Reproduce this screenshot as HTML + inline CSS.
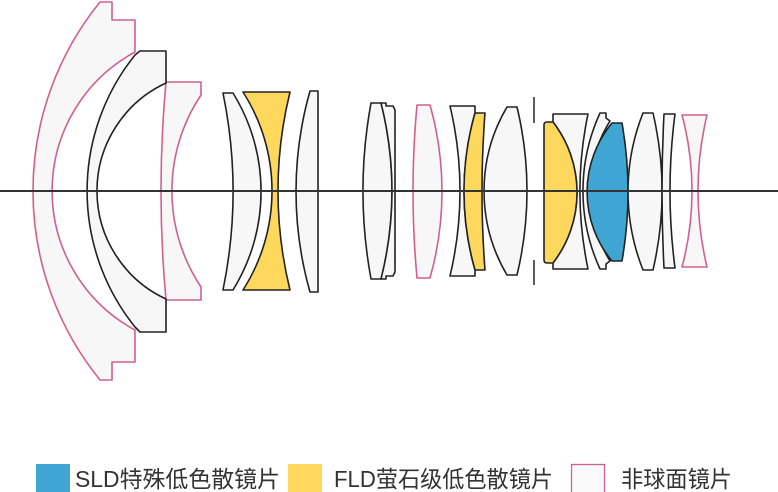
<!DOCTYPE html>
<html><head><meta charset="utf-8"><style>
html,body{margin:0;padding:0;background:#fff;}
svg{display:block;}
text{font-family:"Liberation Sans","Noto Sans CJK SC",sans-serif;fill:#333;font-size:23px;}
</style></head><body>
<svg width="778" height="492" viewBox="0 0 778 492" xmlns="http://www.w3.org/2000/svg">
<g fill="#f7f7f7" stroke-width="1.6" stroke-linejoin="round">
<!-- element 1 pink -->
<path stroke="#d0608f" d="M100,2 L112,2 L112,20 L135,20 L135,52 A158 158 0 0 0 135,330 L135,362 L112,362 L112,380 L100,380 A300 300 0 0 1 100,2 Z"/>
<!-- element 3 pink -->
<path stroke="#d0608f" d="M166,82 L201,82 L201,95 A173 173 0 0 0 201,287 L201,300 L166,300 A1190 1190 0 0 1 166,82 Z"/>
<!-- element 2 black -->
<path stroke="#222" d="M140,51 L166,51 L166,83 A119 119 0 0 0 166,299 L166,332 L140,332 L135,327 A217 217 0 0 1 135,55 Z"/>
<!-- element 4 -->
<path stroke="#222" d="M223,93 L233,93 A187 187 0 0 1 233,290 L223,290 A490 490 0 0 0 223,93 Z"/>
<!-- yellow 1 -->
<path stroke="#222" fill="#fdd85d" d="M243,92 L290,92 A414 414 0 0 0 290,290 L243,290 A183.5 183.5 0 0 0 243,92 Z"/>
<!-- element 6 -->
<path stroke="#222" d="M310,91 L318,91 L318,292 L310,292 A368 368 0 0 1 310,91 Z"/>
<!-- element 7 doublet -->
<path stroke="#222" d="M371,103 L381,103 A357.5 357.5 0 0 1 381,279 L371,279 A488 488 0 0 1 371,103 Z"/>
<path stroke="#222" d="M381,103 L386,103 L386,106 L393,106 L395,110 L395,272 L393,276 L386,276 L386,279 L381,279 A357.5 357.5 0 0 0 381,103 Z"/>
<!-- element 8 pink -->
<path stroke="#d0608f" d="M417,105 L430,105 A318 318 0 0 1 430,278 L417,278 A937 937 0 0 1 417,105 Z"/>
<!-- element 9 -->
<path stroke="#222" d="M450,106 L475,106 L475,113 A285.6 285.6 0 0 0 475,270 L475,276 L450,276 A366 366 0 0 0 450,106 Z"/>
<path stroke="#222" fill="#fdd85d" d="M475,113 L485,113 A1028 1028 0 0 0 485,270 L475,270 A285.6 285.6 0 0 1 475,113 Z"/>
<!-- element 10 -->
<path stroke="#222" d="M507,107 L517,107 A358 358 0 0 1 517,275 L507,275 A165 165 0 0 1 507,107 Z"/>
<!-- white next to yellow2 -->
<path stroke="#222" d="M553,114 L588,114 A379 379 0 0 0 588,269 L553,269 L553,263 A115.5 115.5 0 0 0 553,122 Z"/>
<path stroke="#222" fill="#fdd85d" d="M547,122 L553,122 A115.5 115.5 0 0 1 553,263 L547,263 Q544,263 544,260 L544,125 Q544,122 547,122 Z"/>
<!-- meniscus -->
<path stroke="#222" d="M600,113 L606,113 L606,118 L610,121 A132.5 132.5 0 0 0 610,261 L606,264 L606,269 L600,269 A187 187 0 0 1 600,113 Z"/>
<!-- blue -->
<path stroke="#222" fill="#3fa6d3" d="M612,123 L622,123 A400 400 0 0 1 622,261 L612,261 A108 108 0 0 1 612,123 Z"/>
<!-- biconvex -->
<path stroke="#222" d="M643,113 L653,113 A347 347 0 0 1 653,270 L643,270 A213 213 0 0 1 643,113 Z"/>
<!-- thin -->
<path stroke="#222" d="M664,114 L675,114 A595 595 0 0 0 675,268 L664,268 A1483 1483 0 0 1 664,114 Z"/>
<!-- pink last -->
<path stroke="#d0608f" d="M682,115 L707,115 A325 325 0 0 0 707,267 L682,267 A294 294 0 0 0 682,115 Z"/>
</g>
<!-- aperture -->
<line x1="534" y1="97" x2="534" y2="123" stroke="#333" stroke-width="1.6"/>
<line x1="534" y1="260" x2="534" y2="285" stroke="#333" stroke-width="1.6"/>
<!-- axis -->
<line x1="0" y1="191" x2="778" y2="191" stroke="#333" stroke-width="2"/>
<!-- legend -->
<rect x="36" y="464" width="34" height="30" fill="#3fa6d3"/>
<text x="75" y="487" textLength="205" lengthAdjust="spacingAndGlyphs">SLD特殊低色散镜片</text>
<rect x="288" y="464" width="34" height="30" fill="#fdd85d"/>
<text x="334" y="487" textLength="219" lengthAdjust="spacingAndGlyphs">FLD萤石级低色散镜片</text>
<rect x="571.5" y="464.5" width="33" height="30" fill="#f9f9f9" stroke="#d0608f" stroke-width="1.3"/>
<text x="621" y="487" textLength="111" lengthAdjust="spacingAndGlyphs">非球面镜片</text>
</svg>
</body></html>
